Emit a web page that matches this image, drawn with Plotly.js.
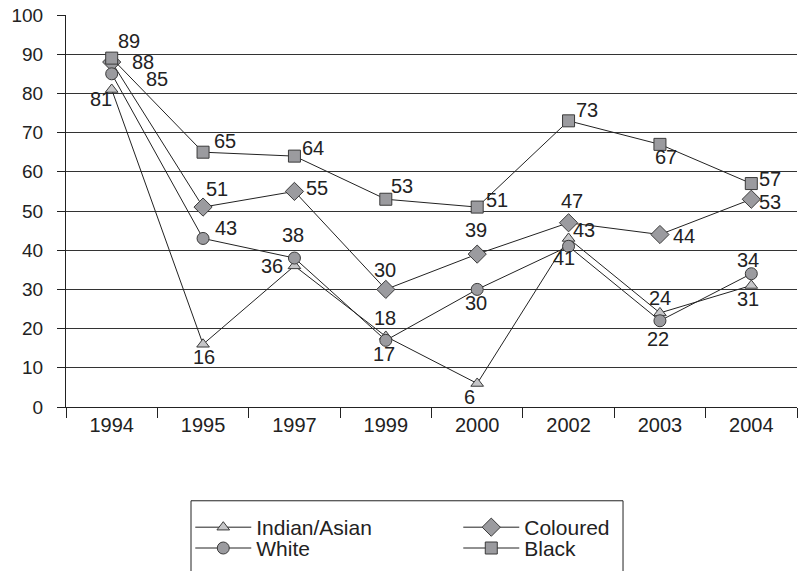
<!DOCTYPE html>
<html>
<head>
<meta charset="utf-8">
<script src="https://cdn.plot.ly/plotly-3.0.1.min.js"></script>
<style>
  html, body { margin: 0; padding: 0; background: #fff; }
  #chart { width: 801px; height: 571px; }
</style>
</head>
<body>
<div id="chart"></div>
<script>
// Survey years
const years = ['1994', '1995', '1997', '1999', '2000', '2002', '2003', '2004'];

// Percentages per population group
const indianAsian = [81, 16, 36, 18, 6, 43, 24, 31];
const coloured    = [88, 51, 55, 30, 39, 47, 44, 53];
const white       = [85, 43, 38, 17, 30, 41, 22, 34];
const black       = [89, 65, 64, 53, 51, 73, 67, 57];

// Value-label nudges in pixels [dx, dy], dy measured downwards
const nudgeIndian   = [[-11, 10], [1, 13], [-22, 0], [-1, -18], [-8, 14], [15, -8], [0, -15], [-3, 14]];
const nudgeColoured = [[31, 0], [14, -18], [23, -3], [-1, -19], [-1, -24], [3, -22], [24, 1], [19, 3]];
const nudgeWhite    = [[45, 5], [23, -10], [-1, -23], [-2, 14], [-1, 14], [-5, 12], [-2, 18], [-3, -14]];
const nudgeBlack    = [[17, -17], [22, -11], [19, -8], [16, -13], [20, -7], [18, -11], [6, 13], [19, -5]];

const FONT = 'Liberation Sans, Arial, Helvetica, sans-serif';
const INK = '#222222';

function series(name, values, symbol, size, fill, legendId) {
  return {
    type: 'scatter',
    mode: 'lines+markers',
    name: name,
    legend: legendId,
    x: years,
    y: values,
    line: { color: INK, width: 1 },
    marker: { symbol: symbol, size: size, color: fill, line: { color: '#3a3a3a', width: 1 } },
    hoverinfo: 'x+y+name'
  };
}

// Legend rows: first row Indian/Asian + Coloured, second row White + Black
const traces = [
  series('Indian/Asian', indianAsian, 'triangle-up', 11, '#c6c6c8', 'legend'),
  series('Coloured', coloured, 'diamond', 14, '#9b9b9f', 'legend'),
  series('White', white, 'circle', 12, '#9b9b9f', 'legend2'),
  series('Black', black, 'square', 12, '#9b9b9f', 'legend2')
];

// Value labels anchored on each point (category index on x, value on y)
function labels(values, nudges) {
  return values.map((v, i) => ({
    x: i,
    y: v,
    xref: 'x',
    yref: 'y',
    text: String(v),
    showarrow: false,
    xshift: nudges[i][0],
    yshift: -nudges[i][1],
    font: { family: FONT, size: 20, color: INK }
  }));
}

const annotations = [].concat(
  labels(indianAsian, nudgeIndian),
  labels(coloured, nudgeColoured),
  labels(white, nudgeWhite),
  labels(black, nudgeBlack)
);

function legendRow(yPos) {
  return {
    orientation: 'h',
    x: 0.170,
    xanchor: 'left',
    y: yPos,
    yanchor: 'top',
    itemwidth: 56,
    entrywidth: 197,
    borderwidth: 0,
    bgcolor: 'rgba(0,0,0,0)',
    font: { family: FONT, size: 21, color: INK },
    itemclick: false,
    itemdoubleclick: false
  };
}

const layout = {
  width: 801,
  height: 571,
  margin: { l: 66, r: 4, t: 15, b: 163 },
  paper_bgcolor: '#ffffff',
  plot_bgcolor: '#ffffff',
  font: { family: FONT, size: 19, color: INK },
  showlegend: true,
  xaxis: {
    type: 'category',
    range: [-0.5, 7.5],
    tickson: 'boundaries',
    ticks: 'outside',
    ticklen: 10,
    tickwidth: 1,
    tickcolor: INK,
    showline: true,
    linecolor: INK,
    linewidth: 1,
    showgrid: false,
    zeroline: false,
    tickfont: { family: FONT, size: 20, color: INK },
    fixedrange: true
  },
  yaxis: {
    range: [0, 100],
    dtick: 10,
    tick0: 0,
    ticks: 'outside',
    ticklen: 8,
    tickwidth: 1,
    tickcolor: INK,
    showline: true,
    linecolor: INK,
    linewidth: 1,
    showgrid: true,
    gridcolor: '#333333',
    gridwidth: 1,
    zeroline: false,
    ticklabelstandoff: 10,
    tickfont: { family: FONT, size: 19, color: INK },
    fixedrange: true
  },
  legend: legendRow(-0.252),
  legend2: legendRow(-0.305),
  // Frame around both legend rows
  shapes: [{
    type: 'rect',
    xref: 'paper',
    yref: 'paper',
    x0: 0.171,
    x1: 0.762,
    y0: -0.2392,
    y1: -0.44,
    line: { color: INK, width: 1 },
    fillcolor: 'rgba(0,0,0,0)',
    layer: 'below'
  }],
  annotations: annotations
};

Plotly.newPlot('chart', traces, layout, { displayModeBar: false });
</script>
</body>
</html>
